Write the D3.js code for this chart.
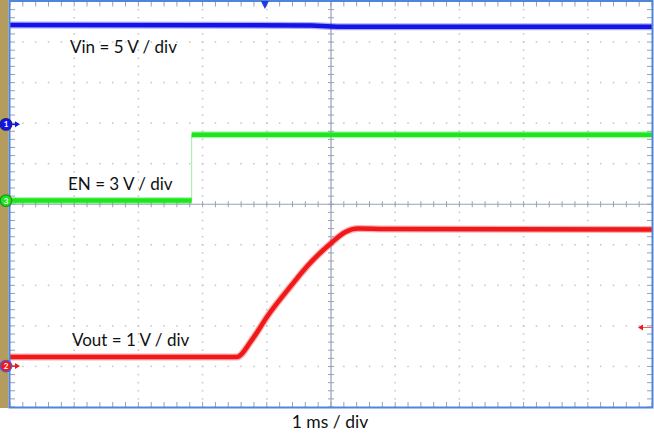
<!DOCTYPE html>
<html><head><meta charset="utf-8">
<script src="https://cdn.jsdelivr.net/npm/d3@7"></script>
<style>body{margin:0;background:#fff}svg{display:block}text{font-family:Lato,"Open Sans",sans-serif}</style>
</head><body><svg id="c" width="654" height="434"></svg>
<script>
// ---- data (time in ms, voltage in V) ----
const timeDivs = d3.range(-5, 6);          // horizontal divisions, 1 ms/div
const vertDivs = d3.range(-5, 6);          // vertical divisions
const vinT  = [-5, -0.3, 0.1, 5];
const vinV  = [12.25, 12.2, 12.05, 12.03];
const enT   = [-5, -2.17, -2.17, 5];
const enV   = [0, 0, 4.88, 4.88];
const voutT = [-5, -1.47, -1.235, -0.977, -0.612, -0.354, 0, 0.218, 0.425, 0.84, 5];
const voutV = [0.22, 0.22, 0.64, 1.26, 2.0, 2.49, 3.03, 3.30, 3.39, 3.38, 3.37];
const chLabels = ["Vin = 5 V / div", "EN = 3 V / div", "Vout = 1 V / div"];
const chNums = ["1", "3", "2"];
const voltsPerDiv = [5, 3, 1];
const groundDiv = [1.97, 0.09, -3.99];
const timeLabel = "1 ms / div";
const triggerTime = -1.03;
const triggerLevelDiv = -3.04;

// ---- layout ----
const svg = d3.select("#c");
const L = 10, R = 652, T = 1.5, B = 407;
const x = d3.scaleLinear().domain([-5, 5]).range([L, R]);
const yd = d3.scaleLinear().domain([-5, 5]).range([B, T]);
const chY = i => v => yd(groundDiv[i] + v / voltsPerDiv[i]);

svg.append("rect").attr("x", 0).attr("y", 0).attr("width", 654).attr("height", 434).attr("fill", "#fff");
svg.append("rect").attr("x", 0).attr("y", 0).attr("width", 8.5).attr("height", B + 1).attr("fill", "#b39c5e");
svg.append("rect").attr("x", L).attr("y", T).attr("width", R - L).attr("height", B - T).attr("fill", "#fff");

// dotted grid
const g = svg.append("g");
const minorX = d3.range(-5, 5.001, 0.2);
const minorY = d3.range(-5, 5.001, 0.2);
timeDivs.filter(d => d !== 0 && Math.abs(d) !== 5).forEach(d => {
  minorY.forEach(m => g.append("rect").attr("x", x(d) - 0.75).attr("y", yd(m) - 0.75).attr("width", 1.5).attr("height", 1.5).attr("fill", "#c4c4c8"));
});
vertDivs.filter(d => d !== 0 && Math.abs(d) !== 5).forEach(d => {
  minorX.forEach(m => g.append("rect").attr("x", x(m) - 0.75).attr("y", yd(d) - 0.75).attr("width", 1.5).attr("height", 1.5).attr("fill", "#c4c4c8"));
});

// center cross with ticks
const axC = "#97a0b8";
g.append("line").attr("x1", x(0)).attr("x2", x(0)).attr("y1", T).attr("y2", B).attr("stroke", axC).attr("stroke-width", 1.2);
g.append("line").attr("x1", L).attr("x2", R).attr("y1", yd(0)).attr("y2", yd(0)).attr("stroke", axC).attr("stroke-width", 1.2);
minorY.forEach(m => g.append("line").attr("x1", x(0) - 3).attr("x2", x(0) + 3).attr("y1", yd(m)).attr("y2", yd(m)).attr("stroke", axC).attr("stroke-width", 1));
minorX.forEach(m => g.append("line").attr("x1", x(m)).attr("x2", x(m)).attr("y1", yd(0) - 3).attr("y2", yd(0) + 3).attr("stroke", axC).attr("stroke-width", 1));
// border ticks
minorX.forEach(m => {
  g.append("line").attr("x1", x(m)).attr("x2", x(m)).attr("y1", T).attr("y2", T + 5).attr("stroke", axC);
  g.append("line").attr("x1", x(m)).attr("x2", x(m)).attr("y1", B - 5).attr("y2", B).attr("stroke", axC);
});
minorY.forEach(m => {
  g.append("line").attr("x1", L).attr("x2", L + 5).attr("y1", yd(m)).attr("y2", yd(m)).attr("stroke", axC);
  g.append("line").attr("x1", R - 5).attr("x2", R).attr("y1", yd(m)).attr("y2", yd(m)).attr("stroke", axC);
});

// traces
const colors = ["#1414e8", "#1ee61e", "#f01818"];
const traces = [[vinT, vinV], [enT, enV], [voutT, voutV]];
traces.forEach(([ts, vs], i) => {
  const pts = ts.map((t, k) => [t, vs[k]]);
  const line = d3.line().x(d => x(d[0])).y(d => chY(i)(d[1])).curve(i === 2 ? d3.curveMonotoneX : d3.curveLinear);
  if (i === 1) {
    svg.append("path").attr("d", line(pts)).attr("fill", "none").attr("stroke", "#9cf09c").attr("stroke-width", 1);
    [pts.slice(0, 2), pts.slice(2)].forEach(seg => {
      svg.append("path").attr("d", line(seg)).attr("fill", "none").attr("stroke", colors[i]).attr("stroke-width", 7).attr("opacity", 0.35);
      svg.append("path").attr("d", line(seg)).attr("fill", "none").attr("stroke", colors[i]).attr("stroke-width", 4.5);
    });
  } else {
    svg.append("path").attr("d", line(pts)).attr("fill", "none").attr("stroke", colors[i]).attr("stroke-width", 7).attr("opacity", 0.35);
    svg.append("path").attr("d", line(pts)).attr("fill", "none").attr("stroke", colors[i]).attr("stroke-width", 4.5);
  }
});

// border
svg.append("rect").attr("x", L - 0.5).attr("y", T - 0.5).attr("width", R - L + 1).attr("height", B - T + 1)
  .attr("fill", "none").attr("stroke", "#4f86dc").attr("stroke-width", 2);

// trigger position marker (top)
const tx = x(triggerTime);
svg.append("path").attr("d", `M${tx - 4},1 L${tx + 4},1 L${tx},9 Z`).attr("fill", "#1a3ce0");
// trigger level marker (right)
const ty = yd(triggerLevelDiv);
svg.append("line").attr("x1", R - 12).attr("x2", R).attr("y1", ty).attr("y2", ty).attr("stroke", "#f06060").attr("stroke-width", 1);
svg.append("path").attr("d", `M${R - 14},${ty} L${R - 9},${ty - 3} L${R - 9},${ty + 3} Z`).attr("fill", "#f01818");

// channel ground markers
const ringCols = ["#1a1a9a", "#1a9a1a", "#3a5ee8"];
chNums.forEach((n, i) => {
  const cy = chY(i)(0);
  const gm = svg.append("g");
  gm.append("line").attr("x1", 10).attr("x2", 17).attr("y1", cy).attr("y2", cy).attr("stroke", colors[i]).attr("stroke-width", 1.5);
  gm.append("path").attr("d", `M${20},${cy} L${15},${cy - 3} L${15},${cy + 3} Z`).attr("fill", colors[i]);
  gm.append("circle").attr("cx", 6).attr("cy", cy).attr("r", 5.8).attr("fill", colors[i]).attr("stroke", ringCols[i]).attr("stroke-width", 1.2);
  gm.append("text").attr("x", 6).attr("y", cy + 3).attr("text-anchor", "middle").attr("font-size", 8).attr("font-weight", "bold").attr("fill", "#fff").text(n);
});

// channel labels
const labelPos = [[70, 52.5], [68, 190], [72, 345.5]];
chLabels.forEach((s, i) => {
  svg.append("text").attr("x", labelPos[i][0]).attr("y", labelPos[i][1]).attr("font-size", 17).attr("fill", "#111").text(s);
});
svg.append("text").attr("x", 330).attr("y", 428).attr("text-anchor", "middle").attr("font-size", 17.5).attr("fill", "#111").text(timeLabel);
</script></body></html>
